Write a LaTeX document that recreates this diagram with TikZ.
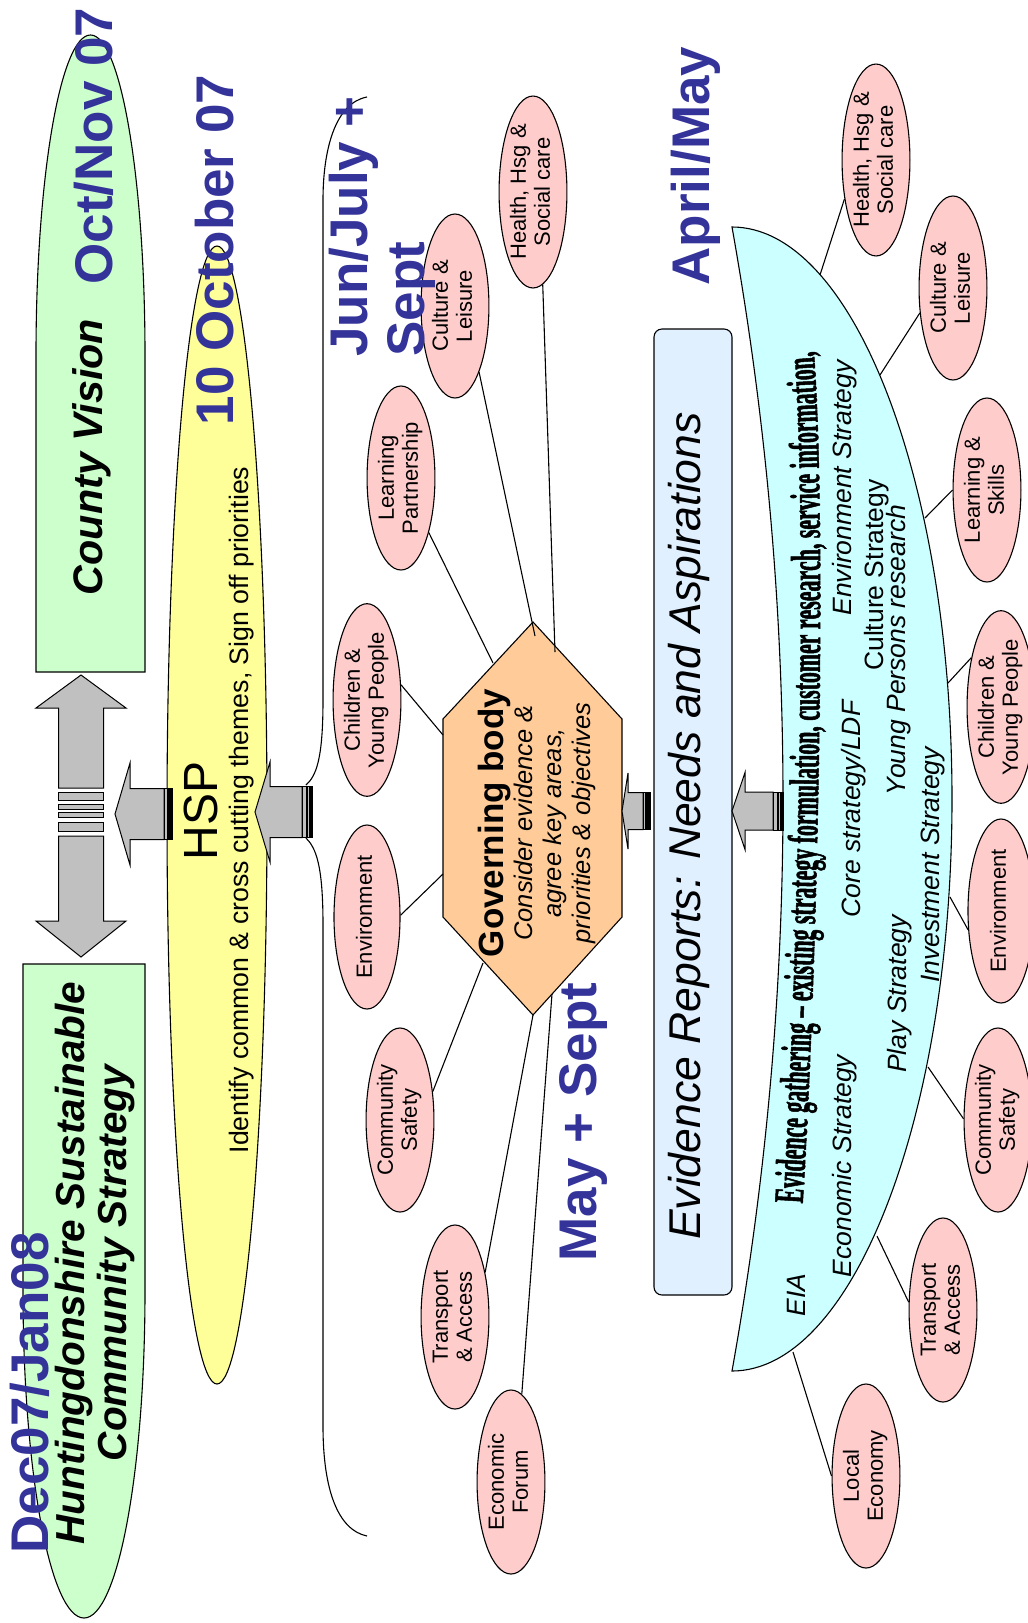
\documentclass[tikz,border=0pt]{standalone}
\usepackage{fontspec}
\setmainfont{Liberation Sans}
\newfontfamily\condfont[FakeStretch=0.52, FakeBold=1.2]{Liberation Serif}
\usetikzlibrary{shapes.geometric,decorations.text}
\definecolor{greenfill}{HTML}{CCFFCC}
\definecolor{yellowfill}{HTML}{FFFF99}
\definecolor{pinkfill}{HTML}{FFCCCC}
\definecolor{hexfill}{HTML}{FFCC99}
\definecolor{cyanfill}{HTML}{CCFFFF}
\definecolor{boxfill}{HTML}{E0F0FF}
\definecolor{dateblue}{HTML}{333399}
\definecolor{arrowgray}{HTML}{C0C0C0}
\newcommand{\rt}[1]{\rotatebox{90}{\begin{tabular}{@{}c@{}}#1\end{tabular}}}
\newcommand{\fs}[2]{\fontsize{#1}{#2}\selectfont}
% left pointing block arrow: #1 tip x, #2 centre y, #3 head base x, #4 head half, #5 shaft half, #6 tail x, #7 stripe end x
\newcommand{\blockleft}[7]{%
  \filldraw[blockarrow] (#1,-#2) -- (#3,{-#2+#4}) -- (#3,{-#2+#5}) -- (#6,{-#2+#5}) -- (#6,{-#2-#5}) -- (#3,{-#2-#5}) -- (#3,{-#2-#4}) -- cycle;
  \filldraw[blockarrow] (#6,{-#2+#5}) rectangle (#7,{-#2-#5});
  \draw[line width=2pt] ({#6+0.45*(#7-#6)},{-#2+#5}) -- ({#6+0.45*(#7-#6)},{-#2-#5});
  \draw[line width=2.4pt] ({#7-1.4},{-#2+#5}) -- ({#7-1.4},{-#2-#5});
}
\begin{document}
\begin{tikzpicture}[x=1pt,y=1pt,
  outl/.style={draw=black, line width=1.1pt},
  blockarrow/.style={draw=black, fill=arrowgray, line width=1pt},
  conn/.style={draw=black, line width=1.1pt},
  pinkell/.style={ellipse, draw=black, line width=1.1pt, fill=pinkfill, minimum width=66pt, minimum height=184pt, inner sep=0pt, font=\fs{22}{24}},
  datetext/.style={rotate=90, anchor=base, inner sep=0pt, text=dateblue, font=\fs{53}{58}\bfseries},
  rtext/.style={rotate=90, anchor=base, inner sep=0pt},
  itlabel/.style={rotate=90, anchor=base, inner sep=0pt, font=\fs{26.5}{29}\itshape}
]
\useasboundingbox (0,0) rectangle (1028,-1623);
\fill[white] (0,0) rectangle (1028,-1623);

% ---------- green shapes ----------
\filldraw[outl, fill=greenfill] (36,-672) -- (36,-355) arc[start angle=180, end angle=0, x radius=54.5, y radius=320] -- (145,-672) -- cycle;
\filldraw[outl, fill=greenfill] (23,-964) -- (145,-964) -- (145,-1291) arc[start angle=0, end angle=-180, x radius=61, y radius=327] -- cycle;

% double arrow
\filldraw[blockarrow] (81,-675) -- (126,-708) -- (103.5,-708) -- (103.5,-788) -- (58.5,-788) -- (58.5,-708) -- (36,-708) -- cycle;
\filldraw[blockarrow] (81,-957) -- (126,-921) -- (103.5,-921) -- (103.5,-836) -- (58.5,-836) -- (58.5,-921) -- (36,-921) -- cycle;
\filldraw[blockarrow] (58.5,-792) rectangle (103.5,-800);
\filldraw[blockarrow] (58.5,-804) rectangle (103.5,-809);
\filldraw[blockarrow] (58.5,-812) rectangle (103.5,-817);
\filldraw[blockarrow] (58.5,-822) rectangle (103.5,-831);

% ---------- HSP ellipse ----------
\filldraw[outl, fill=yellowfill] (217,-815) ellipse[x radius=50, y radius=569];

% ---------- brace ----------
\draw[conn] (367,-97) .. controls (335,-103) and (323,-150) .. (323,-200) -- (323,-700)
  .. controls (323,-760) and (316,-776) .. (306,-785);
\draw[conn] (306,-838) .. controls (316,-848) and (323,-865) .. (323,-925) -- (323,-1426)
  .. controls (323,-1490) and (338,-1530) .. (367,-1536);

% arrows
\blockleft{115}{814}{130}{51}{25.5}{164}{172}
\blockleft{255}{812}{270}{50}{25.5}{302}{312}

% ---------- governing body ----------
\filldraw[outl, fill=hexfill] (533,-622) -- (622,-719) -- (622,-917) -- (533,-1015) -- (443,-917) -- (443,-719) -- cycle;
\coordinate (gbH) at (555,-652);
\coordinate (gbC) at (535,-636);
\coordinate (gbL) at (493,-663);
\coordinate (gbY) at (443,-735);
\coordinate (gbE) at (443,-874);
\coordinate (gbS) at (483,-963);
\coordinate (gbT) at (533,-1015);
\coordinate (gbF) at (552,-994);

\node[pinkell] (hl) at (533,-192) {\rt{Health, Hsg \&\\Social care}};
\node[pinkell] (cl) at (455,-306) {\rt{Culture \&\\Leisure}};
\node[pinkell] (lp) at (401,-478) {\rt{Learning\\Partnership}};
\node[pinkell] (cy) at (367,-700) {\rt{Children \&\\Young People}};
\node[pinkell] (en) at (367,-917) {\rt{Environment}};
\node[pinkell] (cs) at (400,-1120) {\rt{Community\\Safety}};
\node[pinkell] (ta) at (455,-1317) {\rt{Transport\\\& Access}};
\node[pinkell] (ef) at (511,-1482) {\rt{Economic\\Forum}};

\draw[conn] (hl.-84) -- (gbH);
\draw[conn] (cl.-70) -- (gbC);
\draw[conn] (lp.-63) -- (gbL);
\draw[conn] (cy.24) -- (gbY);
\draw[conn] (en.3) -- (gbE);
\draw[conn] (cs.41) -- (gbS);
\draw[conn] (ta.56) -- (gbT);
\draw[conn] (ef.83) -- (gbF);

\node[rotate=90, align=center, inner sep=0pt, font=\fs{25.5}{29}\itshape] (gbt) at (537,-823)
  {{\fs{35}{36}\bfseries\upshape Governing body}\\Consider evidence \&\\agree key areas,\\priorities \& objectives};

% ---------- evidence box ----------
\filldraw[outl, fill=boxfill, rounded corners=8pt] (654,-329) rectangle (732,-1295);
\blockleft{622}{811}{628}{38}{18.5}{643}{650}

% ---------- cyan shape ----------
\filldraw[outl, fill=cyanfill] (732,-227) arc[start angle=90, end angle=-90, x radius=220, y radius=572]
  .. controls (800,-990.7) and (800,-608.3) .. (732,-227) -- cycle;
\blockleft{732}{811}{745}{38.5}{19}{773}{783}

\coordinate (cvA) at (820,-275);
\coordinate (cvB) at (880,-375);
\coordinate (cvC) at (925,-518);
\coordinate (cvD) at (948,-683);
\coordinate (cvE) at (950,-897);
\coordinate (cvF) at (928,-1067);
\coordinate (cvG) at (877,-1236);
\coordinate (cvH) at (793,-1352);

\node[pinkell] (hr) at (876,-160) {\rt{Health, Hsg \&\\Social care}};
\node[pinkell] (cr) at (953,-288) {\rt{Culture \&\\Leisure}};
\node[pinkell] (ls) at (987,-490) {\rt{Learning \&\\Skills}};
\node[pinkell] (cyr) at (1001,-707) {\rt{Children \&\\Young People}};
\node[pinkell] (enr) at (1001,-911) {\rt{Environment}};
\node[pinkell] (csr) at (998,-1120) {\rt{Community\\Safety}};
\node[pinkell] (tar) at (943,-1310) {\rt{Transport\\\& Access}};
\node[pinkell] (le) at (866,-1476) {\rt{Local\\Economy}};

\draw[conn] (cvA) -- (hr.-129);
\draw[conn] (cvB) -- (cr.-143);
\draw[conn] (cvC) -- (ls.180);
\draw[conn] (cvD) -- (cyr.121);
\draw[conn] (cvE) -- (enr.-150);
\draw[conn] (cvF) -- (csr.178);
\draw[conn] (cvG) -- (tar.167);
\draw[conn] (cvH) -- (le.180);

% ---------- texts ----------
\node[rtext, font=\fs{41.3}{44}\bfseries\itshape] (cvt) at (102,-457) {County Vision};
\node[rotate=90, align=center, inner sep=0pt, font=\fs{40.5}{42}\bfseries\itshape] (hst) at (95,-1263)
  {Huntingdonshire Sustainable\\Community Strategy};
\node[rtext, font=\fs{48}{52}] (hsp) at (217,-811) {HSP};
\node[rtext, font=\fs{26.7}{29}] (idt) at (248,-810) {Identify common \& cross cutting themes, Sign off priorities};
\node[rtext, font=\fs{44.5}{48}\itshape] (evr) at (700,-826) {Evidence Reports: Needs and Aspirations};

\path[font=\fs{42}{42}\condfont\bfseries, decorate, decoration={text along path, text align=center,
   text={|\fs{42}{42}\condfont\bfseries|Evidence gathering – existing strategy formulation, customer research, service information,}}]
   (802,-1214) .. controls (819,-950) and (827,-500) .. (813,-342);
\node[itlabel] (eia) at (805,-1295) {EIA};
\node[itlabel] (ecs) at (851,-1166) {Economic Strategy};
\node[itlabel] (ens) at (851,-488) {Environment Strategy};
\node[itlabel] (cor) at (860,-809) {Core strategy/LDF};
\node[rtext, font=\fs{26.5}{29}] (cus) at (883,-575) {Culture Strategy};
\node[itlabel] (ypr) at (905,-650) {Young Persons research};
\node[itlabel] (pls) at (906,-994) {Play Strategy};
\node[itlabel] (ins) at (939,-865) {Investment Strategy};

% date labels
\node[datetext] (d1) at (112,-146) {Oct/Nov 07};
\node[datetext] (d2) at (233,-250) {10 October 07};
\node[rotate=90, align=left, anchor=north west, inner sep=0pt, text=dateblue, font=\fs{53}{57}\bfseries] (d3) at (329,-357) {Jun/July +\\Sept};
\node[datetext] (d4) at (596,-1122) {May + Sept};
\node[datetext] (d5) at (709,-166) {April/May};
\node[datetext] (d6) at (48,-1393) {Dec07/Jan08};
\end{tikzpicture}
\end{document}
